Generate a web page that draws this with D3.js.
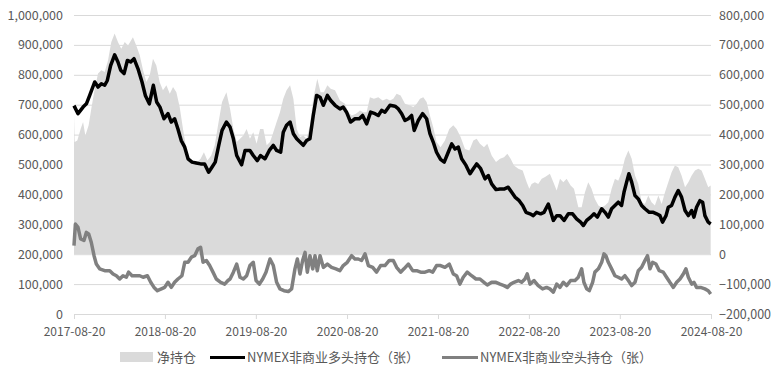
<!DOCTYPE html>
<html>
<head>
<meta charset="utf-8">
<script src="https://cdn.jsdelivr.net/npm/d3@7"></script>
<style>
  body { margin: 0; background: #fff; }
  text { font-family: "Microsoft YaHei", "Noto Sans CJK SC", "Noto Sans", sans-serif; fill: #595959; }
</style>
</head>
<body>
<svg id="chart" width="778" height="370"></svg>
<script>
// weekly CFTC data, x = weeks since 2017-08-20, values in thousand contracts
const startDate = "2017-08-20";
const xTickLabels = ["2017-08-20", "2018-08-20", "2019-08-20", "2020-08-20",
                     "2021-08-20", "2022-08-20", "2023-08-20", "2024-08-20"];
const leftTicks = [0, 100, 200, 300, 400, 500, 600, 700, 800, 900, 1000];
const rightTicks = [-200, -100, 0, 100, 200, 300, 400, 500, 600, 700, 800];

// 净持仓 (right axis)
const netPos = [
  [0,464],[0.4,375],[1.9,380],[3.8,419],[5.2,442],[6.5,397],[8.4,431],[9.9,486],[11.9,553],[13.8,604],
  [15.7,615],[17.6,609],[19.5,648],[21.4,710],[23.3,738],[25.2,710],[27.1,687],[29.1,710],[31,698],[33.8,726],
  [35.7,698],[37.7,665],[39.6,615],[41.5,576],[43.4,598],[45.3,654],[47.2,631],[49.1,576],[51,548],[53,565],
  [54.9,537],[56.8,559],[58.7,542],[60.6,492],[62.5,419],[64.4,352],[66.3,319],[68.2,308],[70.7,308],[72.6,319],
  [74.5,341],[76.5,313],[78.7,330],[80.7,364],[82.6,431],[84.9,509],[87.4,542],[89.5,486],[91.4,419],[93.3,375],
  [95.2,386],[97.1,397],[99,419],[100.9,386],[102.8,408],[104.7,369],[106.7,419],[108.6,419],[110.5,364],[112.4,375],
  [114.3,408],[116.2,442],[118.1,475],[120,520],[121.9,548],[123.9,565],[125.8,520],[127.7,419],[129.6,392],[131.5,397],
  [133.4,386],[135.3,431],[137.2,520],[139.5,587],[141.4,542],[143.3,542],[145.3,565],[147.2,553],[149.7,548],[152.5,514],
  [155.4,503],[157.3,475],[159.2,464],[161.7,470],[164,481],[165.9,475],[167.8,475],[169.7,525],[172,520],[174.5,525],
  [177,514],[179.3,520],[181.2,514],[183.1,520],[185,537],[187.3,531],[189.8,503],[192.3,498],[194.6,492],[196.5,503],
  [198.4,520],[200.3,525],[202.2,509],[204.1,464],[206,425],[207.9,375],[210.2,358],[212.7,380],[215.2,419],[217.5,431],
  [219.4,419],[221.7,392],[224.2,352],[226.7,347],[229,380],[230.9,386],[232.8,369],[235.1,358],[237,369],[239.5,330],
  [242,308],[244.3,319],[246.6,324],[248.5,336],[250.4,319],[252.3,297],[254.8,286],[257.3,280],[259.6,241],[261.1,219],
  [262.4,235],[264.3,241],[266.2,235],[268.2,252],[270.1,258],[272.9,269],[274.9,241],[276.8,213],[278.7,252],[280.6,241],
  [282.5,252],[284.8,230],[286.7,219],[289.2,157],[291.1,157],[293,207],[294.9,241],[296.8,219],[298.7,185],[300.7,163],
  [302.6,157],[304.5,163],[306.4,174],[308.3,219],[310.2,252],[312.1,246],[314,274],[315.9,319],[317.9,347],[319.8,319],
  [321.7,263],[323.6,235],[325.5,174],[327.4,168],[329.3,196],[331.2,174],[333.1,163],[335.1,196],[337,168],[338.9,207],
  [340.8,241],[342.7,274],[344.6,297],[346.5,291],[348.4,263],[350.4,224],[352.3,241],[354.2,263],[356.1,280],[358,286],
  [359.9,280],[361.8,252],[363.7,224],[365.1,230]
];

// NYMEX非商业多头持仓 (left axis)
const longPos = [
  [0,697],[2.3,670],[5.2,692],[7.1,703],[9,731],[11.9,776],[13.8,759],[15.7,770],[17.6,765],[19.1,781],
  [21,831],[23.3,867],[25.2,843],[26.8,815],[28.7,804],[30.6,848],[32.5,843],[34.4,854],[36.7,820],[39,776],
  [40.9,731],[43.2,703],[45.5,765],[47.4,709],[49.3,692],[51.6,653],[53.9,670],[55.8,642],[57.7,653],[59.6,619],
  [61.5,580],[63.5,558],[65.4,519],[67.7,508],[70.1,505],[72.6,502],[74.9,502],[77.2,474],[79.1,491],[81,508],
  [83,564],[84.9,614],[87.4,642],[89.5,625],[91.4,586],[93.3,530],[96.1,499],[98.1,547],[100.9,547],[102.8,530],
  [105.1,513],[107,530],[109.5,519],[112,547],[114.3,564],[116.2,547],[118.5,541],[120,608],[121.9,631],[123.9,642],
  [125.8,603],[127.7,586],[129.6,575],[131.5,564],[133.4,580],[135.3,586],[137.2,664],[139.1,731],[141.1,725],[143,698],
  [145.3,731],[147.2,714],[149.7,698],[152.5,686],[154.4,692],[156.3,675],[158.6,642],[161.1,653],[163.6,653],[165.5,664],
  [167.8,636],[170.1,675],[172.6,670],[174.5,664],[176.4,681],[178.3,675],[181.2,698],[184.1,695],[186,686],[187.9,670],
  [189.8,647],[191.7,653],[193.6,664],[195.1,614],[197.4,647],[199.9,670],[202.2,653],[204.1,603],[206,575],[207.9,541],
  [210.2,517],[212.3,508],[214.6,541],[216.6,569],[218.5,552],[220.4,558],[222.3,519],[224.8,497],[227.1,469],[229,486],
  [230.9,502],[233.2,486],[235.7,452],[237.6,463],[239.5,435],[242,416],[244.3,418],[246.6,418],[249,424],[251,407],
  [252.9,391],[255.3,379],[257.3,363],[259.2,340],[261.5,335],[263.4,329],[265.3,340],[267.6,335],[269.5,340],[272,368],
  [274.9,313],[276.8,329],[278.7,329],[281,313],[283.5,335],[285.9,335],[288.2,318],[290.5,307],[292.1,296],[294,313],
  [296.3,324],[298.2,335],[300.1,324],[302.6,352],[304.5,340],[306.4,324],[308.3,352],[310.2,363],[312.1,374],[314,363],
  [315.4,407],[316.9,441],[318.2,469],[319.8,441],[321.7,396],[323.6,385],[325.5,363],[327.4,352],[329.9,340],[332.2,340],
  [334.1,335],[336,329],[337.5,307],[339.5,329],[340.8,357],[342.7,363],[344.6,391],[346.5,413],[348.4,391],[350.4,346],
  [352.3,329],[354.2,346],[355.5,324],[357,357],[358.9,379],[360.5,374],[361.8,329],[363.7,307],[365.1,301]
];

// NYMEX非商业空头持仓 (left axis)
const shortPos = [
  [0,229],[0.8,301],[2.3,290],[3.8,251],[5.7,246],[7.1,273],[8.4,268],[9.9,240],[11.5,195],[12.8,167],
  [14.7,151],[17.6,145],[20.5,145],[22.4,134],[24.3,128],[26.2,117],[28.1,128],[30,123],[31.3,140],[33.3,128],
  [35.7,128],[37.7,128],[39.6,123],[42.1,128],[44,106],[45.9,89],[47.8,78],[50.1,84],[52,89],[53.9,106],
  [55.8,89],[57.7,106],[59.6,117],[61.9,128],[63.5,173],[65.4,173],[67.3,190],[69.2,195],[71.1,218],[72.6,223],
  [74,173],[75.9,179],[77.8,162],[79.7,140],[81.6,117],[84.1,106],[86.4,100],[88.3,112],[89.5,117],[91.4,140],
  [93.3,167],[95.2,123],[97.1,117],[99,128],[100.9,162],[102.8,173],[104.4,112],[106.3,100],[108.2,117],[110.1,140],
  [112.4,184],[114.3,162],[116.2,106],[118.1,84],[120.4,78],[122.9,75],[124.8,84],[126.7,151],[128.1,184],[129.6,134],
  [131.1,179],[132.5,206],[133.8,140],[135.3,195],[136.9,151],[138.2,195],[139.5,145],[141.1,195],[143,156],[145.3,167],
  [147.7,156],[150.2,151],[152.5,145],[154.4,162],[156.7,173],[159.2,195],[161.1,184],[163,184],[164.9,179],[166.9,201],
  [168.8,162],[171.3,156],[173.5,140],[175.8,162],[178.3,162],[180.8,179],[183.1,179],[185,156],[187.3,140],[189.2,151],
  [191.7,167],[194.2,145],[196.5,145],[198.8,140],[201.3,140],[203.7,145],[205.7,140],[207.9,162],[210.2,162],[212.7,156],
  [215.2,167],[217.5,134],[219.4,128],[221.3,100],[223.2,123],[225.5,140],[228,128],[230.5,117],[232.8,117],[235.1,106],
  [237,97],[239.5,106],[242,106],[244.3,100],[246.6,95],[248.5,89],[250.4,100],[252.3,106],[254.8,112],[256.7,106],
  [258.6,117],[259.9,134],[261.5,100],[263.8,112],[266.2,95],[268.7,84],[271,89],[272.9,84],[274.9,73],[276.8,100],
  [278.7,89],[280.6,106],[282.5,95],[284.8,112],[287.3,112],[289.2,123],[291.1,151],[292.4,106],[294,84],[295.5,78],
  [297.4,106],[298.7,140],[300.7,151],[302.6,173],[303.9,201],[305,195],[306.4,173],[308.3,151],[310.2,128],[312.1,123],
  [314,117],[315.9,128],[317.9,112],[319.8,95],[321.7,106],[323.6,145],[325.5,156],[327.4,179],[328.9,195],[330.3,151],
  [331.8,173],[333.7,167],[335.6,145],[337.9,140],[339.8,123],[341.7,106],[343.7,89],[345.6,106],[347.5,117],[349.4,134],
  [350.9,151],[352.3,123],[354.2,100],[355.5,106],[357,89],[359.3,89],[361.8,84],[363.7,78],[365.1,67]
];

const svg = d3.select("#chart");
const parse = d3.timeParse("%Y-%m-%d");
const t0 = parse(startDate);
const toDate = w => d3.timeHour.offset(t0, Math.round(w * 7 * 24));

const x = d3.scaleTime()
    .domain([parse(xTickLabels[0]), parse(xTickLabels[xTickLabels.length - 1])])
    .range([74, 711]);
const yLeft = d3.scaleLinear().domain([0, 1000]).range([314, 15]);
const yRight = d3.scaleLinear().domain([-200, 800]).range([314, 15]);
const fmt = d3.format(",");

// gridlines
svg.append("g")
  .attr("transform", "translate(74,0)")
  .call(d3.axisLeft(yLeft).tickValues(leftTicks.slice(1)).tickSize(-637).tickFormat(""))
  .call(g => g.select(".domain").remove())
  .call(g => g.selectAll("line").attr("stroke", "#d9d9d9").attr("stroke-width", 1));

// net position area
const area = d3.area()
    .x(d => x(toDate(d[0])))
    .y0(yRight(0))
    .y1(d => yRight(d[1]));
svg.append("path").datum(netPos)
  .attr("fill", "#dadada")
  .attr("d", area);

// x axis
svg.append("g")
  .attr("transform", "translate(0,314)")
  .call(d3.axisBottom(x).tickValues(xTickLabels.map(parse)).tickSize(5).tickFormat(d3.timeFormat("%Y-%m-%d")))
  .call(g => g.select(".domain").attr("stroke", "#d9d9d9"))
  .call(g => g.selectAll("line").attr("stroke", "#d9d9d9"))
  .call(g => g.selectAll("text").attr("dy", "1.15em").style("font-size", "12px").style("fill", "#595959"));

// left axis
svg.append("g")
  .attr("transform", "translate(65,0)")
  .call(d3.axisLeft(yLeft).tickValues(leftTicks).tickSize(0).tickPadding(2).tickFormat(d => fmt(d * 1000)))
  .call(g => g.select(".domain").remove())
  .call(g => g.selectAll("text").style("font-size", "12.5px").style("fill", "#595959"));

// right axis
svg.append("g")
  .attr("transform", "translate(716,0)")
  .call(d3.axisRight(yRight).tickValues(rightTicks).tickSize(0).tickPadding(3).tickFormat(d => fmt(d * 1000)))
  .call(g => g.select(".domain").remove())
  .call(g => g.selectAll("text").style("font-size", "12.5px").style("fill", "#595959"));

// lines
const line = d3.line()
    .x(d => x(toDate(d[0])))
    .y(d => yLeft(d[1]));
svg.append("path").datum(shortPos)
  .attr("fill", "none").attr("stroke", "#808080").attr("stroke-width", 3.5)
  .attr("stroke-linejoin", "round")
  .attr("d", line);
svg.append("path").datum(longPos)
  .attr("fill", "none").attr("stroke", "#000").attr("stroke-width", 3.5)
  .attr("stroke-linejoin", "round")
  .attr("d", line);

// legend
const legend = svg.append("g").style("font-size", "13px");
legend.append("rect").attr("x", 120).attr("y", 352).attr("width", 33).attr("height", 10).attr("fill", "#dadada");
legend.append("text").attr("x", 157).attr("y", 362).text("净持仓");
legend.append("line").attr("x1", 210).attr("x2", 245).attr("y1", 357.5).attr("y2", 357.5)
  .attr("stroke", "#000").attr("stroke-width", 3);
legend.append("text").attr("x", 247).attr("y", 362).text("NYMEX非商业多头持仓（张）");
legend.append("line").attr("x1", 442).attr("x2", 478).attr("y1", 357.5).attr("y2", 357.5)
  .attr("stroke", "#808080").attr("stroke-width", 3);
legend.append("text").attr("x", 480).attr("y", 362).text("NYMEX非商业空头持仓（张）");
</script>
</body>
</html>
